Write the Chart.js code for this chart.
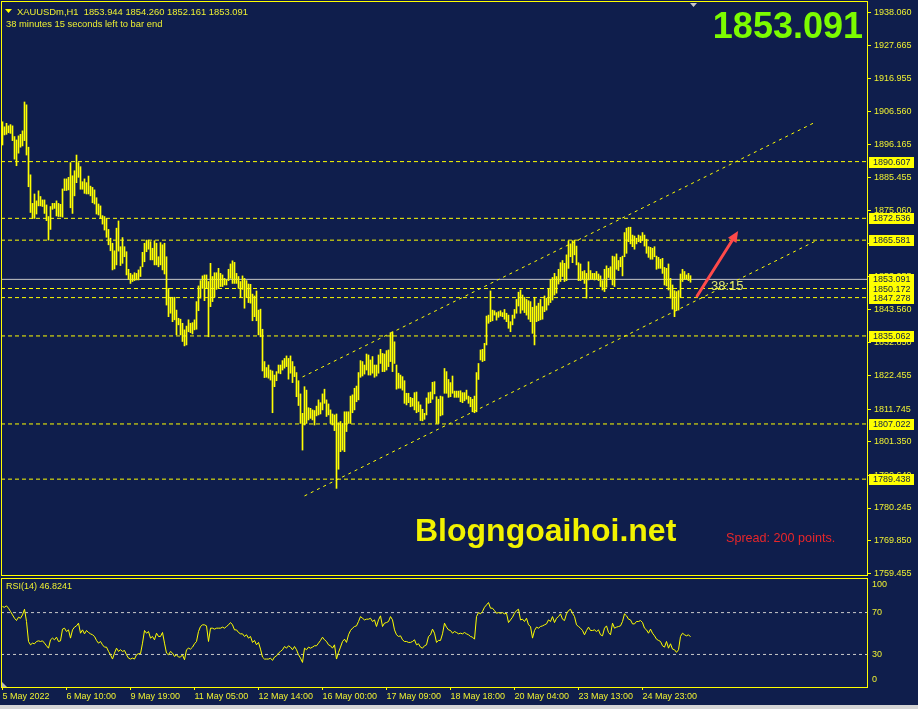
<!DOCTYPE html>
<html>
<head>
<meta charset="utf-8">
<title>XAUUSDm H1</title>
<script src="https://cdn.jsdelivr.net/npm/chart.js@4.4.0/dist/chart.umd.min.js"></script>
<style>
  html, body { margin: 0; padding: 0; background: #0f1e4c; overflow: hidden; }
  #wrap { position: relative; width: 918px; height: 709px; background: #0f1e4c; }
  #priceChart { position: absolute; left: 0; top: 0; }
  #rsiChart { position: absolute; left: 0; top: 577px; }
  #statusBar { position: absolute; left: 0; top: 705px; width: 918px; height: 4px; background: #d4d4d4; }
</style>
</head>
<body>
<div id="wrap">
  <canvas id="priceChart" width="918" height="577"></canvas>
  <canvas id="rsiChart" width="918" height="128"></canvas>
  <div id="statusBar"></div>
</div>
<script>
// hourly bar highs / lows (bar 0 = 5 May 2022)
const highs = [
  1903.3, 1901.7, 1902.8, 1902.0, 1902.4, 1902.0, 1898.6, 1897.5, 1898.8, 1899.3,
  1900.4, 1909.6, 1908.7, 1895.2, 1886.4, 1877.3, 1880.3, 1878.1, 1881.3, 1879.5,
  1878.4, 1878.4, 1876.8, 1873.1, 1876.3, 1877.3, 1877.3, 1878.1, 1877.3, 1877.0,
  1881.9, 1885.1, 1885.1, 1885.6, 1890.3, 1886.1, 1887.7, 1892.7, 1890.3, 1889.0,
  1884.2, 1885.1, 1883.9, 1886.0, 1882.8, 1882.4, 1881.6, 1879.1, 1877.1, 1876.5,
  1873.4, 1873.1, 1872.5, 1869.0, 1866.2, 1864.6, 1862.2, 1869.4, 1871.7, 1863.5,
  1866.4, 1863.5, 1861.9, 1856.3, 1855.0, 1854.5, 1855.2, 1855.0, 1856.1, 1857.1,
  1861.7, 1864.6, 1865.6, 1865.6, 1865.1, 1863.0, 1865.4, 1864.6, 1860.3, 1864.8,
  1864.1, 1864.6, 1860.3, 1850.2, 1847.4, 1847.4, 1847.4, 1843.3, 1840.7, 1840.4,
  1839.1, 1837.0, 1838.2, 1840.2, 1839.1, 1839.3, 1840.2, 1846.0, 1851.0, 1852.7,
  1854.2, 1854.5, 1854.5, 1852.4, 1858.2, 1854.0, 1855.2, 1855.2, 1856.6, 1855.0,
  1854.5, 1853.4, 1852.9, 1856.3, 1858.0, 1859.0, 1858.5, 1855.0, 1854.0, 1852.4,
  1854.2, 1853.4, 1852.7, 1851.6, 1851.5, 1848.4, 1847.8, 1849.4, 1843.3, 1843.6,
  1837.2, 1826.9, 1825.0, 1825.8, 1824.2, 1823.9, 1822.6, 1823.7, 1825.8, 1825.8,
  1827.2, 1827.9, 1828.7, 1827.9, 1828.7, 1826.9, 1825.3, 1823.4, 1820.8, 1816.6,
  1810.4, 1818.9, 1817.8, 1812.2, 1812.0, 1811.5, 1811.3, 1812.7, 1814.7, 1813.8,
  1816.6, 1818.1, 1814.7, 1813.4, 1811.5, 1810.2, 1809.9, 1810.2, 1807.4, 1807.8,
  1807.2, 1810.9, 1810.9, 1810.9, 1815.9, 1816.3, 1818.4, 1819.1, 1823.4, 1827.2,
  1826.9, 1825.8, 1829.3, 1829.0, 1827.4, 1828.5, 1825.8, 1825.8, 1829.0, 1830.8,
  1829.5, 1829.3, 1830.4, 1830.6, 1836.1, 1836.4, 1833.2, 1825.8, 1823.2, 1822.6,
  1822.1, 1820.8, 1816.8, 1816.8, 1815.5, 1815.2, 1817.0, 1817.2, 1814.1, 1813.1,
  1811.7, 1810.4, 1815.3, 1817.0, 1817.2, 1820.3, 1820.5, 1815.7, 1814.9, 1815.9,
  1815.7, 1824.7, 1823.7, 1821.2, 1820.2, 1822.3, 1817.5, 1817.5, 1817.5, 1817.6,
  1817.0, 1817.0, 1817.8, 1815.9, 1815.5, 1814.9, 1815.9, 1823.4, 1826.3, 1830.6,
  1830.8, 1832.7, 1841.4, 1841.7, 1849.4, 1843.3, 1843.1, 1842.5, 1842.8, 1843.1,
  1842.5, 1843.5, 1842.3, 1841.7, 1839.6, 1841.7, 1843.5, 1846.7, 1849.0, 1849.7,
  1848.1, 1847.4, 1846.7, 1846.3, 1846.0, 1844.2, 1847.4, 1844.6, 1845.5, 1846.7,
  1844.4, 1847.8, 1847.1, 1850.2, 1853.1, 1853.7, 1855.0, 1854.0, 1856.3, 1858.4,
  1859.1, 1858.2, 1860.9, 1865.4, 1864.4, 1865.4, 1865.6, 1863.7, 1858.4, 1858.0,
  1855.6, 1855.9, 1855.0, 1858.7, 1855.9, 1855.0, 1855.0, 1855.6, 1854.8, 1854.2,
  1852.7, 1856.3, 1857.4, 1856.6, 1857.1, 1860.5, 1860.3, 1861.2, 1859.1, 1860.1,
  1860.5, 1868.0, 1869.4, 1869.7, 1869.7, 1867.2, 1866.9, 1866.2, 1867.2, 1866.9,
  1868.0, 1867.2, 1865.9, 1863.5, 1863.3, 1863.0, 1863.5, 1860.5, 1860.1, 1859.5,
  1859.8, 1856.9, 1856.6, 1858.0, 1853.4, 1851.3, 1849.5, 1849.2, 1849.5, 1854.8,
  1856.3, 1855.6, 1854.5, 1855.0, 1854.26
];
const lows = [
  1895.9, 1899.1, 1899.3, 1899.8, 1899.6, 1897.3, 1891.4, 1889.3, 1893.3, 1895.2,
  1895.6, 1897.3, 1892.7, 1882.6, 1874.4, 1872.5, 1872.5, 1873.9, 1876.5, 1876.5,
  1876.3, 1874.1, 1871.8, 1865.6, 1869.0, 1875.4, 1875.7, 1873.3, 1873.1, 1873.1,
  1872.9, 1881.4, 1881.4, 1881.6, 1875.9, 1874.1, 1879.7, 1883.9, 1885.6, 1881.8,
  1881.8, 1880.5, 1880.3, 1880.3, 1879.7, 1877.5, 1877.1, 1873.9, 1873.6, 1872.5,
  1870.7, 1868.8, 1866.5, 1864.1, 1862.2, 1856.1, 1856.4, 1857.7, 1862.1, 1857.5,
  1858.2, 1860.3, 1854.5, 1853.1, 1851.8, 1852.4, 1852.7, 1852.9, 1852.9, 1854.0,
  1857.1, 1858.7, 1861.9, 1862.7, 1859.3, 1859.3, 1857.7, 1857.7, 1857.1, 1857.7,
  1856.1, 1854.8, 1844.9, 1841.2, 1842.3, 1839.6, 1840.2, 1835.4, 1838.6, 1835.4,
  1833.3, 1831.9, 1832.2, 1836.4, 1836.1, 1835.7, 1837.0, 1837.2, 1843.1, 1847.1,
  1850.2, 1846.3, 1850.2, 1834.8, 1844.4, 1846.0, 1847.4, 1849.9, 1850.2, 1850.8,
  1850.8, 1851.3, 1851.3, 1852.7, 1853.4, 1851.8, 1851.8, 1851.8, 1850.2, 1847.4,
  1849.9, 1843.9, 1847.3, 1845.7, 1845.5, 1839.9, 1841.2, 1839.9, 1835.4, 1834.8,
  1823.9, 1821.8, 1821.9, 1821.6, 1821.0, 1810.6, 1818.9, 1820.8, 1823.2, 1823.0,
  1824.2, 1824.8, 1825.3, 1821.3, 1823.2, 1820.2, 1822.1, 1815.7, 1812.9, 1807.2,
  1798.7, 1806.7, 1807.2, 1808.3, 1808.8, 1808.3, 1806.7, 1809.6, 1809.9, 1810.2,
  1811.5, 1813.6, 1809.4, 1809.9, 1807.2, 1806.7, 1804.9, 1786.5, 1792.6, 1798.2,
  1798.7, 1798.2, 1804.6, 1807.2, 1807.2, 1810.6, 1811.5, 1814.1, 1814.7, 1821.9,
  1822.3, 1822.9, 1824.2, 1822.6, 1822.6, 1823.2, 1821.9, 1822.3, 1823.2, 1826.3,
  1823.7, 1823.7, 1824.2, 1825.3, 1826.9, 1823.7, 1826.3, 1818.1, 1818.4, 1818.4,
  1817.8, 1813.6, 1813.1, 1813.8, 1812.5, 1812.7, 1811.5, 1810.6, 1810.9, 1808.1,
  1808.0, 1808.5, 1809.9, 1813.6, 1813.8, 1814.9, 1816.6, 1807.2, 1807.2, 1809.6,
  1809.9, 1816.8, 1816.8, 1815.5, 1815.7, 1816.8, 1815.5, 1815.5, 1815.5, 1814.1,
  1813.8, 1814.4, 1814.9, 1813.6, 1812.5, 1810.9, 1810.6, 1810.9, 1821.2, 1827.4,
  1826.9, 1827.2, 1832.2, 1839.1, 1839.6, 1839.9, 1841.7, 1840.1, 1841.0, 1841.4,
  1841.2, 1840.4, 1839.6, 1837.5, 1836.4, 1838.6, 1840.7, 1842.3, 1844.6, 1842.3,
  1843.3, 1842.5, 1841.7, 1840.4, 1839.6, 1835.9, 1832.2, 1839.6, 1839.9, 1840.2,
  1840.4, 1842.8, 1843.3, 1844.9, 1845.7, 1846.5, 1848.1, 1848.7, 1851.6, 1852.4,
  1854.0, 1852.4, 1852.7, 1856.6, 1860.3, 1858.4, 1860.9, 1857.7, 1852.7, 1852.7,
  1853.1, 1851.8, 1847.1, 1852.9, 1853.1, 1853.1, 1852.9, 1853.1, 1852.7, 1850.8,
  1849.7, 1849.2, 1850.6, 1853.7, 1853.1, 1851.3, 1850.8, 1856.3, 1855.9, 1857.1,
  1854.2, 1860.3, 1861.4, 1865.1, 1864.4, 1863.5, 1862.7, 1864.4, 1865.1, 1864.8,
  1865.4, 1863.7, 1861.4, 1860.1, 1859.5, 1859.5, 1860.3, 1856.3, 1856.6, 1856.6,
  1855.0, 1851.3, 1851.0, 1849.7, 1847.1, 1843.6, 1841.2, 1843.1, 1843.3, 1847.4,
  1852.4, 1853.1, 1853.1, 1852.7, 1852.161
];
// RSI(14) per bar
const rsi = [
  75.7, 75.1, 76.4, 74.2, 71.0, 67.8, 64.6, 62.4, 65.6, 64.6,
  67.8, 73.2, 61.5, 42.4, 39.2, 40.8, 40.2, 42.4, 43.0, 42.4,
  43.0, 40.8, 38.3, 36.0, 44.0, 45.6, 44.0, 46.5, 42.4, 43.0,
  54.2, 55.1, 51.9, 53.5, 45.6, 53.5, 56.1, 57.3, 59.9, 50.3,
  53.5, 49.7, 52.9, 51.0, 49.7, 48.8, 47.2, 43.4, 40.8, 42.4,
  39.2, 37.0, 37.0, 32.9, 29.7, 25.6, 31.3, 36.0, 32.9, 34.5,
  32.9, 33.8, 29.7, 26.5, 25.6, 26.5, 25.6, 29.7, 30.7, 30.7,
  40.8, 52.9, 50.3, 51.9, 45.6, 47.2, 44.0, 50.3, 47.2, 47.2,
  51.0, 40.8, 31.3, 29.7, 32.9, 31.3, 28.1, 29.7, 27.5, 27.5,
  29.7, 24.9, 34.5, 36.0, 35.1, 37.0, 40.2, 42.4, 51.9, 56.7,
  58.3, 58.3, 57.3, 42.4, 55.1, 55.1, 54.2, 55.1, 55.1, 55.1,
  56.1, 55.1, 56.7, 58.3, 60.5, 58.3, 53.5, 53.5, 51.0, 49.7,
  49.7, 47.2, 48.8, 45.6, 47.2, 41.5, 43.4, 39.2, 41.5, 35.1,
  27.5, 25.6, 25.6, 25.6, 26.5, 24.3, 27.5, 28.7, 31.3, 32.9,
  34.5, 37.6, 36.0, 38.3, 37.0, 34.5, 37.6, 34.5, 29.7, 26.5,
  22.4, 36.0, 34.5, 37.0, 36.0, 37.0, 38.3, 38.3, 40.8, 43.4,
  46.5, 44.0, 42.4, 39.2, 38.3, 36.0, 39.2, 25.6, 31.9, 37.0,
  42.4, 44.6, 41.5, 48.8, 52.9, 55.1, 56.7, 57.3, 61.5, 66.2,
  64.6, 63.0, 63.7, 63.7, 64.6, 61.5, 63.0, 56.7, 63.0, 66.9,
  56.7, 59.9, 60.5, 61.5, 66.2, 63.0, 53.5, 48.8, 47.2, 47.8,
  44.0, 42.4, 42.4, 41.5, 41.5, 42.4, 44.0, 39.2, 40.2, 37.0,
  36.0, 38.3, 39.2, 47.2, 48.8, 54.2, 50.3, 41.5, 43.4, 43.4,
  49.7, 59.9, 56.1, 53.5, 52.9, 50.3, 51.9, 51.0, 49.7, 50.3,
  49.7, 51.0, 49.7, 48.8, 47.2, 46.5, 44.6, 66.2, 70.0, 68.8,
  71.0, 75.1, 77.3, 79.6, 74.2, 74.2, 71.9, 69.4, 70.0, 69.4,
  70.0, 68.8, 69.4, 60.5, 63.0, 65.6, 69.4, 71.9, 73.2, 63.0,
  63.7, 61.5, 64.6, 58.3, 56.7, 45.6, 52.9, 56.1, 55.1, 56.7,
  57.3, 58.3, 59.2, 63.0, 61.5, 66.2, 60.5, 64.6, 66.2, 68.8,
  63.7, 62.4, 68.8, 71.9, 73.2, 69.4, 66.2, 58.3, 56.7, 55.1,
  52.9, 48.8, 52.9, 56.1, 52.9, 52.9, 53.5, 51.9, 53.5, 48.8,
  47.8, 55.1, 57.3, 51.0, 48.8, 59.9, 55.1, 56.1, 56.7, 57.3,
  61.5, 68.8, 66.9, 63.7, 63.0, 59.2, 59.2, 61.5, 61.5, 62.4,
  60.5, 55.1, 53.5, 50.3, 54.2, 50.3, 47.8, 44.6, 43.4, 42.4,
  38.3, 37.0, 42.4, 36.0, 40.2, 35.1, 34.5, 32.0, 34.5, 47.2,
  50.3, 48.8, 47.8, 48.8, 46.8241
];

const timeLabels = ['5 May 2022', '6 May 10:00', '9 May 19:00', '11 May 05:00', '12 May 14:00',
  '16 May 00:00', '17 May 09:00', '18 May 18:00', '20 May 04:00', '23 May 13:00', '24 May 23:00'];
const timeLabelBars = [0, 32, 64, 96, 128, 160, 192, 224, 256, 288, 320];

const yTickValues = [1938.060, 1927.665, 1916.955, 1906.560, 1896.165, 1885.455, 1875.060, 1864.665,
  1853.955, 1843.560, 1832.850, 1822.455, 1811.745, 1801.350, 1790.640, 1780.245, 1769.850, 1759.455];
const dashedLevels = [1890.607, 1872.536, 1865.581, 1850.172, 1847.278, 1835.062, 1807.022, 1789.438];
const bidPrice = 1853.091;
const boxedLevels = [1890.607, 1872.536, 1865.581, 1853.091, 1850.172, 1847.278, 1835.062, 1807.022, 1789.438];

// trend channel (bar index, price)
const channelUpper = [[150, 1822.0], [406.5, 1903.2]];
const channelLower = [[151, 1784.1], [406.5, 1865.3]];
const arrowFrom = [347.3, 1847.8];
const arrowTo = [367.8, 1868.5];
const timerLabelAt = [354.25, 1850.8];

const rsiLevels = [70, 30];
const rsiAxisLabels = [100, 70, 30, 0];

const BG = '#0f1e4c';
const YELLOW = '#ffff00';
const TEXT_YELLOW = '#eef032';
const FONT = '"Liberation Sans", Arial, sans-serif';

// axis bounds: 2 px per bar, plot spans x 1..867
const X_MIN = -0.75;
const X_MAX = 432.25;
const Y_MIN = 1758.90;
const Y_MAX = 1941.46;

Chart.defaults.font.family = FONT;

function flatLine(v) {
  return [{ x: X_MIN, y: v }, { x: X_MAX, y: v }];
}

function noPadding(scale) {
  scale.paddingTop = 0;
  scale.paddingBottom = 0;
  scale.paddingLeft = 0;
  scale.paddingRight = 0;
}

const priceOverlay = {
  id: 'priceOverlay',
  afterDraw(chart) {
    const { ctx, scales: { x, y } } = chart;
    ctx.save();

    // window frame
    ctx.strokeStyle = YELLOW;
    ctx.lineWidth = 1;
    ctx.strokeRect(1.5, 1.5, 866, 574);

    // price labels of the lines
    ctx.font = '9px ' + FONT;
    ctx.textAlign = 'left';
    ctx.textBaseline = 'middle';
    boxedLevels.forEach(v => {
      const py = Math.round(y.getPixelForValue(v));
      ctx.fillStyle = YELLOW;
      ctx.fillRect(869, py - 5, 45, 11);
      ctx.fillStyle = BG;
      ctx.fillText(v.toFixed(3), 873, py + 0.5);
    });

    // header
    ctx.fillStyle = YELLOW;
    ctx.beginPath();
    ctx.moveTo(5, 9); ctx.lineTo(12, 9); ctx.lineTo(8.5, 13); ctx.closePath();
    ctx.fill();
    ctx.fillStyle = TEXT_YELLOW;
    ctx.font = '9.4px ' + FONT;
    ctx.fillText('XAUUSDm,H1  1853.944 1854.260 1852.161 1853.091', 17, 12);
    ctx.fillText('38 minutes 15 seconds left to bar end', 6, 24);

    // chart shift marker
    ctx.fillStyle = '#c8c8c8';
    ctx.beginPath();
    ctx.moveTo(690, 3); ctx.lineTo(697, 3); ctx.lineTo(693.5, 7); ctx.closePath();
    ctx.fill();

    // big price
    ctx.fillStyle = '#7cfc00';
    ctx.font = 'bold 36px ' + FONT;
    ctx.textAlign = 'right';
    ctx.textBaseline = 'alphabetic';
    ctx.fillText('1853.091', 863, 38);

    // watermark and spread
    ctx.textAlign = 'left';
    ctx.fillStyle = '#f2f200';
    ctx.font = 'bold 32px ' + FONT;
    ctx.fillText('Blogngoaihoi.net', 415, 541);
    ctx.fillStyle = '#e8262a';
    ctx.font = '12.6px ' + FONT;
    ctx.textBaseline = 'middle';
    ctx.fillText('Spread: 200 points.', 726, 539);

    // bar timer
    ctx.fillStyle = '#e0e870';
    ctx.font = '13px ' + FONT;
    ctx.fillText('38:15', x.getPixelForValue(timerLabelAt[0]), y.getPixelForValue(timerLabelAt[1]));

    // arrow
    const x0 = x.getPixelForValue(arrowFrom[0]);
    const y0 = y.getPixelForValue(arrowFrom[1]);
    const x1 = x.getPixelForValue(arrowTo[0]);
    const y1 = y.getPixelForValue(arrowTo[1]);
    const ang = Math.atan2(y1 - y0, x1 - x0);
    const head = 11;
    const half = 5;
    ctx.strokeStyle = '#ff4a4a';
    ctx.fillStyle = '#ff4a4a';
    ctx.lineWidth = 3;
    ctx.lineCap = 'round';
    ctx.beginPath();
    ctx.moveTo(x0, y0);
    ctx.lineTo(x1 - head * 0.8 * Math.cos(ang), y1 - head * 0.8 * Math.sin(ang));
    ctx.stroke();
    ctx.beginPath();
    ctx.moveTo(x1, y1);
    ctx.lineTo(x1 - head * Math.cos(ang) + half * Math.sin(ang), y1 - head * Math.sin(ang) - half * Math.cos(ang));
    ctx.lineTo(x1 - head * Math.cos(ang) - half * Math.sin(ang), y1 - head * Math.sin(ang) + half * Math.cos(ang));
    ctx.closePath();
    ctx.fill();

    ctx.restore();
  }
};

const rsiOverlay = {
  id: 'rsiOverlay',
  afterDraw(chart) {
    const { ctx, chartArea, scales: { y } } = chart;
    ctx.save();
    ctx.strokeStyle = YELLOW;
    ctx.lineWidth = 1;
    ctx.strokeRect(1.5, 1.5, 866, 109);

    ctx.fillStyle = TEXT_YELLOW;
    ctx.font = '9px ' + FONT;
    ctx.textAlign = 'left';
    ctx.textBaseline = 'middle';
    rsiAxisLabels.forEach(v => {
      let py = y.getPixelForValue(v);
      py = Math.min(Math.max(py, chartArea.top + 6), chartArea.bottom - 7);
      ctx.fillText(String(v), 872, py);
    });
    ctx.fillText('RSI(14) 46.8241', 6, 10);

    ctx.fillStyle = '#b8b8b8';
    ctx.beginPath();
    ctx.moveTo(2, 105); ctx.lineTo(2, 110); ctx.lineTo(7, 110); ctx.closePath();
    ctx.fill();
    ctx.restore();
  }
};

const levelSets = dashedLevels.map(v => ({
  type: 'line',
  data: flatLine(v),
  borderColor: YELLOW,
  borderWidth: 1,
  borderDash: [4, 3],
  pointRadius: 0,
  order: 2
}));

new Chart(document.getElementById('priceChart'), {
  type: 'bar',
  data: {
    datasets: [
      {
        type: 'bar',
        data: highs.map((h, i) => ({ x: i, y: [lows[i], h] })),
        backgroundColor: YELLOW,
        borderWidth: 0,
        barThickness: 1,
        order: 0
      },
      ...levelSets,
      {
        type: 'line',
        data: flatLine(bidPrice),
        borderColor: '#c8c8c8',
        borderWidth: 1,
        pointRadius: 0,
        order: 3
      },
      {
        type: 'line',
        data: channelUpper.map(p => ({ x: p[0], y: p[1] })),
        borderColor: YELLOW,
        borderWidth: 1,
        borderDash: [3, 4],
        pointRadius: 0,
        order: 1
      },
      {
        type: 'line',
        data: channelLower.map(p => ({ x: p[0], y: p[1] })),
        borderColor: YELLOW,
        borderWidth: 1,
        borderDash: [3, 4],
        pointRadius: 0,
        order: 1
      }
    ]
  },
  options: {
    responsive: false,
    animation: false,
    devicePixelRatio: 1,
    events: [],
    layout: { padding: { left: 1, top: 2, right: 0, bottom: 2 } },
    plugins: { legend: { display: false }, tooltip: { enabled: false } },
    scales: {
      x: {
        type: 'linear',
        min: X_MIN,
        max: X_MAX,
        offset: false,
        display: false,
        grid: { offset: false }
      },
      y: {
        position: 'right',
        min: Y_MIN,
        max: Y_MAX,
        afterFit(scale) { scale.width = 51; noPadding(scale); },
        afterBuildTicks(scale) { scale.ticks = yTickValues.map(v => ({ value: v })); },
        grid: { drawOnChartArea: false, drawTicks: true, tickLength: 4, color: YELLOW },
        border: { display: false },
        ticks: {
          color: TEXT_YELLOW,
          font: { size: 9 },
          padding: 3,
          autoSkip: false,
          callback: v => Number(v).toFixed(3)
        }
      }
    }
  },
  plugins: [priceOverlay]
});

new Chart(document.getElementById('rsiChart'), {
  type: 'line',
  data: {
    datasets: [
      {
        data: rsi.map((v, i) => ({ x: i, y: v })),
        borderColor: YELLOW,
        borderWidth: 1,
        pointRadius: 0,
        tension: 0,
        order: 0
      },
      ...rsiLevels.map(v => ({
        data: flatLine(v),
        borderColor: '#c8c8c8',
        borderWidth: 1,
        borderDash: [3, 3],
        pointRadius: 0,
        order: 1
      }))
    ]
  },
  options: {
    responsive: false,
    animation: false,
    devicePixelRatio: 1,
    events: [],
    layout: { padding: { left: 1, top: 2, right: 0, bottom: 0 } },
    plugins: { legend: { display: false }, tooltip: { enabled: false } },
    scales: {
      x: {
        type: 'linear',
        min: X_MIN,
        max: X_MAX,
        offset: false,
        afterFit(scale) { scale.height = 18; noPadding(scale); },
        afterBuildTicks(scale) { scale.ticks = timeLabelBars.map(v => ({ value: v })); },
        grid: { drawOnChartArea: false, drawTicks: true, tickLength: 3, color: YELLOW, offset: false },
        border: { display: false },
        ticks: {
          color: TEXT_YELLOW,
          font: { size: 9 },
          padding: 1,
          align: 'start',
          maxRotation: 0,
          autoSkip: false,
          callback: (v, idx) => timeLabels[idx]
        }
      },
      y: {
        position: 'right',
        min: -1.1,
        max: 102.1,
        afterFit(scale) { scale.width = 51; noPadding(scale); },
        grid: { display: false },
        border: { display: false },
        ticks: { display: false }
      }
    }
  },
  plugins: [rsiOverlay]
});
</script>
</body>
</html>
